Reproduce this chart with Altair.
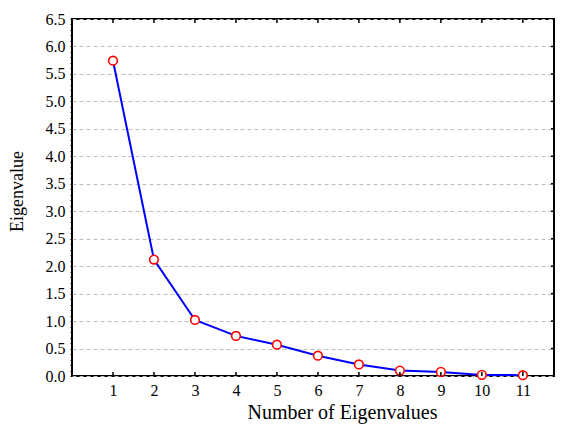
import altair as alt
import pandas as pd

# ---- data ----
components = [1, 2, 3, 4, 5, 6, 7, 8, 9, 10, 11]
eigenvalues = [5.74, 2.12, 1.02, 0.73, 0.57, 0.37, 0.21, 0.10, 0.075, 0.02, 0.015]
x_tick_values = [1, 2, 3, 4, 5, 6, 7, 8, 9, 10, 11]
y_major_ticks = [0.0, 0.5, 1.0, 1.5, 2.0, 2.5, 3.0, 3.5, 4.0, 4.5, 5.0, 5.5, 6.0, 6.5]
y_minor_ticks = [round(i * 0.1, 1) for i in range(66)]

W, H = 482, 357
FONT = "Liberation Serif"

df = pd.DataFrame({"n": components, "ev": eigenvalues})
xt = pd.DataFrame({"n": x_tick_values})
yt = pd.DataFrame({"ev": y_major_ticks[1:-1]})

xscale = alt.Scale(domain=[0, 11.76], nice=False, zero=False)
yscale = alt.Scale(domain=[0, 6.5], nice=False)

is_major = "abs(datum.value*2 - round(datum.value*2)) < 0.001"

x_axis = alt.Axis(
    values=x_tick_values, title="Number of Eigenvalues", grid=False, domain=False,
    ticks=False, labelFont=FONT, labelFontSize=16, labelColor="black", labelPadding=6,
    titleFont=FONT, titleFontSize=20, titleFontWeight="normal", titleColor="black",
    titleX=270, titleY=42, titleBaseline="alphabetic", titleAlign="center",
)
y_axis = alt.Axis(
    values=y_minor_ticks, title="Eigenvalue", domain=False,
    labelExpr=f"({is_major}) ? format(datum.value, '.1f') : ''",
    labelOverlap=False, labelFlush=False,
    labelFont=FONT, labelFontSize=16, labelColor="black", labelPadding=5,
    ticks=True, tickColor="black", tickSize=2, tickWidth=1,
    grid=True, gridDash=[4, 3], gridColor="#bdbdbd", gridWidth=1,
    gridOpacity={"condition": {"test": is_major, "value": 1}, "value": 0},
    titleFont=FONT, titleFontSize=18, titleFontWeight="normal", titleColor="black",
    titleAngle=270, titleX=-50, titleY=172, titleBaseline="alphabetic", titleAlign="center",
)

X = alt.X("n:Q", scale=xscale, axis=x_axis)
Y = alt.Y("ev:Q", scale=yscale, axis=y_axis)

base = alt.Chart(df)
line = base.mark_line(color="#0000ff", strokeWidth=2).encode(x=X, y=Y)
points = base.mark_point(
    shape="circle", filled=True, fill="white", stroke="#ff0000", strokeWidth=1.6,
    size=75, opacity=1,
).encode(x=X, y=Y)

bottom_ticks = alt.Chart(xt).mark_rule(color="black", strokeWidth=1.5).encode(
    x=X, y=alt.value(H), y2=alt.value(H - 4),
)
top_ticks = alt.Chart(xt).mark_rule(color="black", strokeWidth=1.5).encode(
    x=X, y=alt.value(0), y2=alt.value(4),
)
right_ticks = alt.Chart(yt).mark_rule(color="black", strokeWidth=1.5).encode(
    y=Y, x=alt.value(W), x2=alt.value(W - 3),
)

chart = alt.layer(line, points, bottom_ticks, top_ticks, right_ticks).properties(
    width=W, height=H,
    autosize=alt.AutoSizeParams(type="none"),
    padding={"left": 64, "top": 11, "right": 1, "bottom": 48},
    background="white",
).configure_view(stroke="black", strokeWidth=2)

chart.save("out.html", embed_options={"renderer": "svg", "actions": False})
